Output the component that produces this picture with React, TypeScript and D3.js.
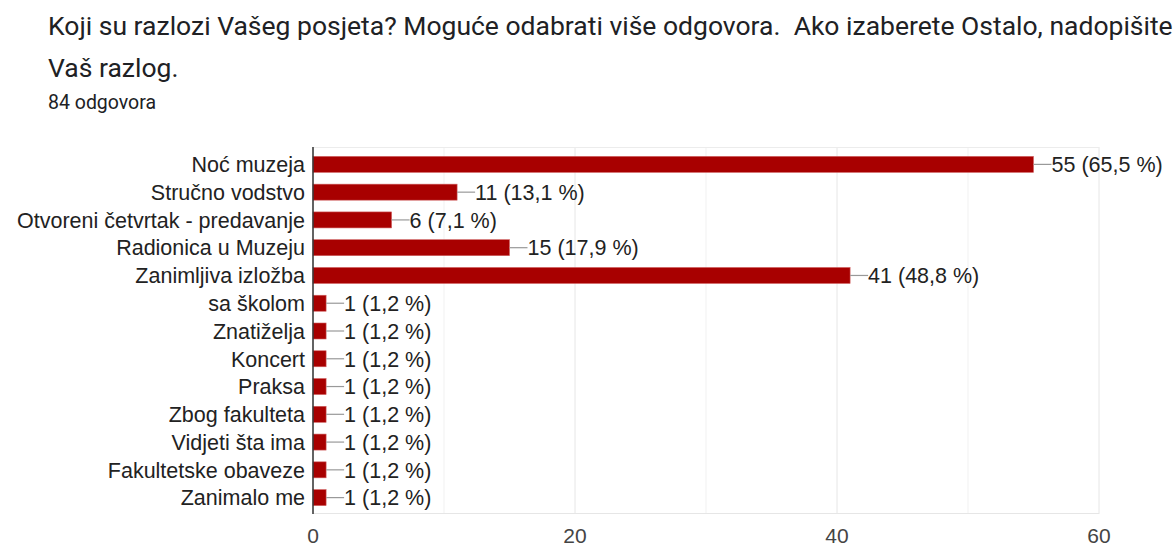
import React from 'react';
import * as d3 from 'd3';

const categories = [
  'Noć muzeja',
  'Stručno vodstvo',
  'Otvoreni četvrtak - predavanje',
  'Radionica u Muzeju',
  'Zanimljiva izložba',
  'sa školom',
  'Znatiželja',
  'Koncert',
  'Praksa',
  'Zbog fakulteta',
  'Vidjeti šta ima',
  'Fakultetske obaveze',
  'Zanimalo me',
];
const counts = [55, 11, 6, 15, 41, 1, 1, 1, 1, 1, 1, 1, 1];
const percents = ['65,5', '13,1', '7,1', '17,9', '48,8', '1,2', '1,2', '1,2', '1,2', '1,2', '1,2', '1,2', '1,2'];
const xTicks = [0, 20, 40, 60];
const minorTicks = [10, 30, 50];

const W = 1176;
const H = 547;
const FONT = 'Liberation Sans, Arial, sans-serif';

const App = () => {
  const x = d3.scaleLinear().domain([0, 60]).range([313, 1099]);
  const y = d3.scaleBand().domain(categories).range([150.5, 511.5]).paddingInner(0.42).paddingOuter(0.21);
  const barH = 16;

  return (
    <svg width={W} height={H} style={{ position: 'absolute', left: 0, top: 0 }}>
      <rect width={W} height={H} fill="#fff" />
      <g fontFamily="Roboto, sans-serif" fill="#202124">
        <text x={48} y={35} fontSize={26.5}>
          Koji su razlozi Vašeg posjeta? Moguće odabrati više odgovora.{'\u00a0\u00a0'}Ako izaberete Ostalo, nadopišite
        </text>
        <text x={48} y={77} fontSize={26.5}>Vaš razlog.</text>
        <text x={48} y={109} fontSize={19.5}>84 odgovora</text>
      </g>

      {/* grid */}
      <g>
        {minorTicks.map((t) => (
          <line key={'m' + t} x1={x(t)} x2={x(t)} y1={147} y2={514} stroke="#f1f1f1" strokeWidth={1} />
        ))}
        {xTicks.map((t) => (
          <line key={'g' + t} x1={x(t)} x2={x(t)} y1={147} y2={514} stroke="#e6e6e6" strokeWidth={1} />
        ))}
        <line x1={313} x2={1099} y1={147.5} y2={147.5} stroke="#ececec" />
        <line x1={313} x2={1099} y1={513.5} y2={513.5} stroke="#e6e6e6" />
      </g>

      {/* bars */}
      <g>
        {categories.map((c, i) => {
          const cy = y(c)! + y.bandwidth() / 2;
          const x1 = x(counts[i]);
          return (
            <g key={c}>
              <rect x={x(0)} y={cy - barH / 2} width={x1 - x(0)} height={barH} fill="#a80000" stroke="#d06060" strokeWidth={0.6} />
              <line x1={x1} x2={x1 + 18} y1={cy} y2={cy} stroke="#999" strokeWidth={1.2} />
              <text x={x1 + 18} y={cy} dy="0.36em" fontSize={21.5} fontFamily={FONT} fill="#222">
                {counts[i]} ({percents[i]} %)
              </text>
              <text x={305} y={cy} dy="0.36em" textAnchor="end" fontSize={21.5} fontFamily={FONT} fill="#222">
                {c}
              </text>
            </g>
          );
        })}
      </g>

      <line x1={313} x2={313} y1={147} y2={514} stroke="#333" strokeWidth={1.5} />

      {/* axis labels */}
      <g fontSize={21} fontFamily={FONT} fill="#444" textAnchor="middle">
        {xTicks.map((t) => (
          <text key={t} x={x(t)} y={543}>{t}</text>
        ))}
      </g>
    </svg>
  );
};

export default App;
